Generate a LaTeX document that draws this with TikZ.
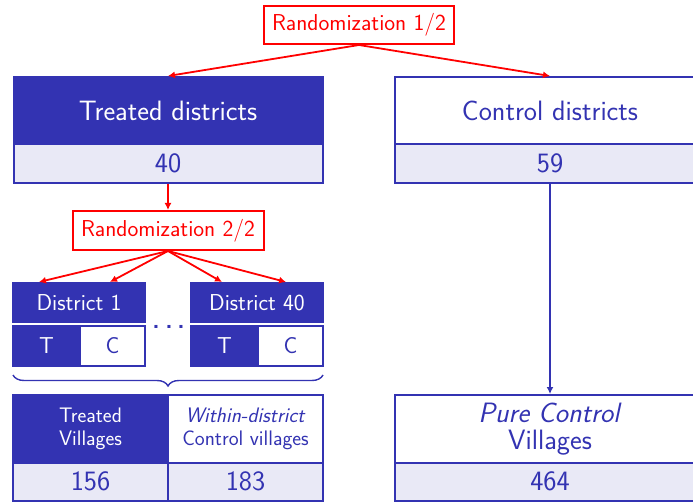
\documentclass[tikz,border=0pt]{standalone}
\usepackage{fontspec}
\usetikzlibrary{arrows.meta,decorations.pathreplacing}
\definecolor{dk}{RGB}{51,51,178}
\definecolor{lt}{RGB}{233,233,246}
\definecolor{rd}{RGB}{255,0,0}
\newcommand\fbig{\sffamily\fontsize{28}{27}\selectfont}
\newcommand\fmid{\sffamily\fontsize{23}{26}\selectfont}
\newcommand\fsml{\sffamily\fontsize{21}{23}\selectfont}
\begin{document}
\begin{tikzpicture}[x=1pt,y=-1pt,
  cellbox/.style={draw=dk, line width=2pt, inner sep=0pt, align=center},
  dkcell/.style={cellbox, fill=dk, text=white},
  wtcell/.style={cellbox, fill=white, text=dk},
  ltcell/.style={cellbox, fill=lt, text=dk},
  randbox/.style={draw=rd, line width=2pt, fill=white, text=rd, inner sep=0pt, font=\fmid, minimum width=190pt, minimum height=38pt},
  rarrow/.style={draw=rd, line width=1.8pt, -{Latex[length=7pt,width=7pt]}},
  barrow/.style={draw=dk, line width=1.8pt, -{Latex[length=7pt,width=7pt]}},
  bracepath/.style={draw=dk, line width=1.4pt, decorate, decoration={brace, amplitude=11pt, mirror}}
]
\useasboundingbox (0,0) rectangle (693,502);
\clip (0,0) rectangle (693,502);

% top randomization
\node[randbox] (r1) at (359,25) {Randomization 1/2};

% treated districts
\node[dkcell, font=\fbig, minimum width=309pt, minimum height=67pt] (th) at (168,110.5) {Treated districts};
\node[ltcell, font=\fbig, minimum width=309pt, minimum height=39pt] (tn) at (168,163.5) {40};

% control districts
\node[wtcell, font=\fbig, minimum width=310pt, minimum height=67pt] (ch) at (550,110.5) {Control districts};
\node[ltcell, font=\fbig, minimum width=310pt, minimum height=39pt] (cn) at (550,163.5) {59};

% second randomization
\node[randbox, minimum width=191pt, minimum height=39pt] (r2) at (168,230.5) {Randomization 2/2};

% districts
\node[dkcell, font=\fmid, minimum width=132pt, minimum height=39pt] (d1h) at (79,302.5) {District 1};
\node[dkcell, font=\fmid, minimum width=67pt, minimum height=40pt] (d1t) at (46.5,346) {T};
\node[wtcell, font=\fmid, minimum width=65pt, minimum height=40pt] (d1c) at (112.5,346) {C};
\node[dkcell, font=\fmid, minimum width=132pt, minimum height=39pt] (d40h) at (257,302.5) {District 40};
\node[dkcell, font=\fmid, minimum width=67pt, minimum height=40pt] (d40t) at (224.5,346) {T};
\node[wtcell, font=\fmid, minimum width=65pt, minimum height=40pt] (d40c) at (290.5,346) {C};
\node[text=dk, font=\sffamily\fontsize{38}{38}\selectfont, inner sep=0pt] (dots) at (169,327) {.\kern2.5pt.\kern2.5pt.};

% brace
\coordinate (bl) at (13,375);
\coordinate (br) at (323,375);
\draw[bracepath] (bl) -- (br);

% village table
\node[dkcell, font=\fsml, minimum width=155pt, minimum height=67.5pt] (tv) at (90.5,428.75) {Treated\\Villages};
\node[wtcell, font=\fsml, minimum width=155pt, minimum height=67.5pt] (wc) at (245.5,428.75) {\textit{Within-district}\\Control villages};
\node[ltcell, font=\fbig, minimum width=155pt, minimum height=38pt] (tvn) at (90.5,481.5) {156};
\node[ltcell, font=\fbig, minimum width=155pt, minimum height=38pt] (wcn) at (245.5,481.5) {183};

% pure control
\node[wtcell, font=\fbig, minimum width=310pt, minimum height=67.5pt] (pc) at (550,428.75) {\textit{Pure Control}\\Villages};
\node[ltcell, font=\fbig, minimum width=310pt, minimum height=38pt] (pcn) at (550,481.5) {464};

% connectors
\draw[rarrow] (r1.south) -- (th.north);
\draw[rarrow] (r1.south) -- (ch.north);
\draw[rarrow] (tn.south) -- (r2.north);
\draw[rarrow] (r2.south) -- ([xshift=27pt]d1h.north west);
\draw[rarrow] (r2.south) -- ([xshift=98pt]d1h.north west);
\draw[rarrow] (r2.south) -- ([xshift=32pt]d40h.north west);
\draw[rarrow] (r2.south) -- ([xshift=96pt]d40h.north west);
\draw[barrow] (cn.south) -- (pc.north);
\end{tikzpicture}
\end{document}
